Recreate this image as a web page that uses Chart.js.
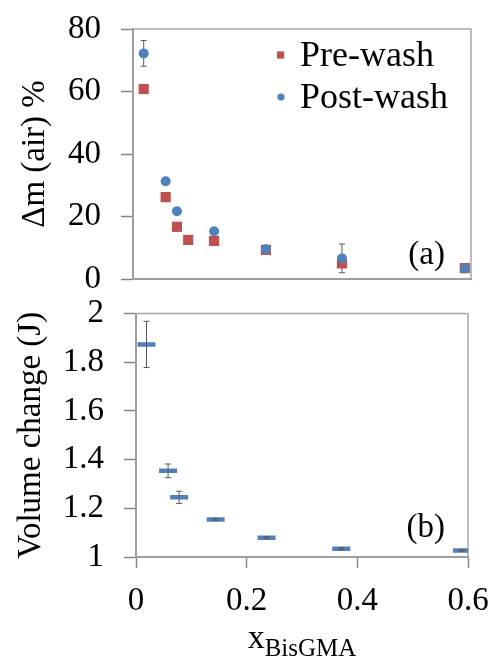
<!DOCTYPE html>
<html>
<head>
<meta charset="utf-8">
<script src="https://cdn.jsdelivr.net/npm/chart.js@4.4.0/dist/chart.umd.min.js"></script>
<style>
html, body { margin: 0; padding: 0; background: #fff; }
#wrap { position: relative; width: 490px; height: 657px; }
.panel { position: absolute; left: 0; width: 490px; }
</style>
</head>
<body>
<div id="wrap">
  <div class="panel" style="top:0;height:300px"><canvas id="massChart"></canvas></div>
  <div class="panel" style="top:300px;height:357px"><canvas id="volChart"></canvas></div>
</div>
<script>
// x_BisGMA values
var preX  = [0.019, 0.058, 0.078, 0.098, 0.144, 0.236, 0.371, 0.589];
var postX = [0.019, 0.058, 0.078, 0.144, 0.236, 0.371, 0.589];

// mass change in air (%)
var preWash  = [60.8, 26.2, 16.7, 12.5, 12.2, 9.3, 5.0, 3.5];
var postWash = [72.2, 31.3, 21.7, 15.3, 9.5, 6.6, 3.4];
var postErr  = [4.1, 0.8, 0.8, 0.8, 0.6, 4.6, 0.6];

// volume change (J)
var volChange = [1.873, 1.354, 1.245, 1.154, 1.079, 1.034, 1.027];
var volErr    = [0.095, 0.028, 0.025, 0.004, 0.004, 0.004, 0.003];

var massTicks = [0, 20, 40, 60, 80];
var volTicks  = [1, 1.2, 1.4, 1.6, 1.8, 2];
var xTicks    = [0, 0.2, 0.4, 0.6];

var serif = "'Liberation Serif', 'Times New Roman', serif";
var red = '#c0504d';
var blue = '#4f81bd';
var axisGray = '#868686';

function pts(xs, ys) {
  return xs.map(function (x, i) { return { x: x, y: ys[i] }; });
}

// error bars, frame, inner labels
var extras = {
  id: 'extras',
  beforeDatasetsDraw: function (chart, args, opts) {
    var ctx = chart.ctx, a = chart.chartArea;
    ctx.save();
    ctx.strokeStyle = '#a6a6a6';
    ctx.lineWidth = 1.5;
    ctx.strokeRect(a.left, a.top, a.right - a.left, a.bottom - a.top);
    ctx.restore();
    if (!opts.errorsOver) drawErrors(chart, opts);
  },
  afterDatasetsDraw: function (chart, args, opts) {
    if (opts.errorsOver) drawErrors(chart, opts);
    var ctx = chart.ctx, a = chart.chartArea;
    ctx.save();
    ctx.fillStyle = '#000';
    ctx.font = '33px ' + serif;
    ctx.textAlign = 'right';
    ctx.textBaseline = 'middle';
    ctx.fillText(opts.panel, a.right - opts.panelDx, a.bottom - opts.panelDy);
    if (opts.legend) {
      var ds = chart.data.datasets;
      ctx.textAlign = 'left';
      ctx.font = '36px ' + serif;
      [0, 1].forEach(function (i) {
        var y = a.top + 26 + i * 42;
        ctx.fillStyle = ds[i].backgroundColor;
        ctx.beginPath();
        if (ds[i].pointStyle === 'rect') ctx.rect(a.right - 194, y - 3.6, 7.2, 7.2);
        else ctx.arc(a.right - 190, y, 3.6, 0, Math.PI * 2);
        ctx.fill();
        ctx.fillStyle = '#000';
        ctx.fillText(ds[i].label, a.right - 171, y + 2);
      });
    }
    if (opts.xTitle) {
      ctx.textAlign = 'left';
      ctx.textBaseline = 'alphabetic';
      ctx.font = '34px ' + serif;
      var w1 = ctx.measureText('x').width;
      ctx.font = '25px ' + serif;
      var w2 = ctx.measureText('BisGMA').width;
      var x0 = (a.left + a.right) / 2 - (w1 + w2) / 2;
      ctx.font = '34px ' + serif;
      ctx.fillText('x', x0, chart.height - 9);
      ctx.font = '25px ' + serif;
      ctx.fillText('BisGMA', x0 + w1, chart.height - 1);
    }
    ctx.restore();
  }
};

function drawErrors(chart, opts) {
  var ctx = chart.ctx;
  var ds = chart.data.datasets[opts.errDataset];
  var xs = chart.scales.x, ys = chart.scales.y;
  ctx.save();
  ctx.strokeStyle = '#595959';
  ctx.lineWidth = 1;
  ds.data.forEach(function (p, i) {
    var e = opts.errors[i];
    if (!e) return;
    var px = xs.getPixelForValue(p.x);
    var y1 = ys.getPixelForValue(p.y + e), y2 = ys.getPixelForValue(p.y - e);
    ctx.beginPath();
    ctx.moveTo(px, y1); ctx.lineTo(px, y2);
    ctx.moveTo(px - 3, y1); ctx.lineTo(px + 3, y1);
    ctx.moveTo(px - 3, y2); ctx.lineTo(px + 3, y2);
    ctx.stroke();
  });
  ctx.restore();
}

function yScale(min, max, width, title, titlePad, ticks) {
  return {
    min: min, max: max,
    afterFit: function (s) { s.width = width; s.paddingTop = 0; s.paddingBottom = 0; },
    afterBuildTicks: function (s) { s.ticks = ticks.map(function (v) { return { value: v }; }); },
    ticks: { padding: 20, color: '#000', font: { family: serif, size: 33 },
             callback: function (v) { return String(+v.toFixed(1)); } },
    grid: { drawOnChartArea: false, drawTicks: true, tickLength: 12, tickColor: axisGray, tickWidth: 1.5 },
    border: { color: axisGray, width: 2 },
    title: { display: true, text: title, color: '#000', font: { family: serif, size: 33 },
             padding: { top: titlePad, bottom: 0 } }
  };
}

new Chart(document.getElementById('massChart'), {
  type: 'scatter',
  data: {
    datasets: [
      { label: 'Pre-wash', data: pts(preX, preWash), order: 1, pointStyle: 'rect',
        pointRadius: 7.2, pointHoverRadius: 7.2, backgroundColor: red, borderColor: red, borderWidth: 0 },
      { label: 'Post-wash', data: pts(postX, postWash), order: 0, pointStyle: 'circle',
        pointRadius: 5, pointHoverRadius: 5, backgroundColor: blue, borderColor: blue, borderWidth: 0 }
    ]
  },
  options: {
    responsive: true,
    maintainAspectRatio: false,
    animation: false,
    layout: { padding: { top: 29, right: 19, bottom: 21, left: 0 } },
    plugins: {
      legend: { display: false },
      tooltip: { enabled: false },
      extras: { errDataset: 1, errors: postErr, errorsOver: false, panel: '(a)',
                panelDx: 26, panelDy: 24, legend: true }
    },
    scales: {
      x: {
        min: 0, max: 0.6,
        afterFit: function (s) { s.height = 0; s.paddingLeft = 0; s.paddingRight = 0; },
        ticks: { display: false },
        grid: { drawOnChartArea: false, drawTicks: false },
        border: { color: axisGray, width: 2 }
      },
      y: yScale(0, 80, 133, '\u0394m (air) %', 16, massTicks)
    }
  },
  plugins: [extras]
});

new Chart(document.getElementById('volChart'), {
  type: 'scatter',
  data: {
    datasets: [
      { label: 'Volume change', data: pts(postX, volChange), pointStyle: 'line',
        pointRadius: 9, pointHoverRadius: 9, borderColor: blue, backgroundColor: blue,
        borderWidth: 4.5, pointBorderWidth: 4.5 }
    ]
  },
  options: {
    responsive: true,
    maintainAspectRatio: false,
    animation: false,
    layout: { padding: { top: 12, right: 22, bottom: 0, left: 0 } },
    plugins: {
      legend: { display: false },
      tooltip: { enabled: false },
      extras: { errDataset: 0, errors: volErr, errorsOver: true, panel: '(b)',
                panelDx: 23, panelDy: 29, legend: false, xTitle: true }
    },
    scales: {
      x: {
        min: 0, max: 0.6,
        afterFit: function (s) { s.height = 100; s.paddingLeft = 0; s.paddingRight = 0; },
        afterBuildTicks: function (s) { s.ticks = xTicks.map(function (v) { return { value: v }; }); },
        ticks: { padding: 14, color: '#000', font: { family: serif, size: 33 },
                 callback: function (v) { return String(+v.toFixed(1)); } },
        grid: { drawOnChartArea: false, drawTicks: true, tickLength: 11, tickColor: axisGray, tickWidth: 1.5 },
        border: { color: axisGray, width: 2 }
      },
      y: yScale(1, 2, 136, 'Volume change (J)', 12, volTicks)
    }
  },
  plugins: [extras]
});
</script>
</body>
</html>
